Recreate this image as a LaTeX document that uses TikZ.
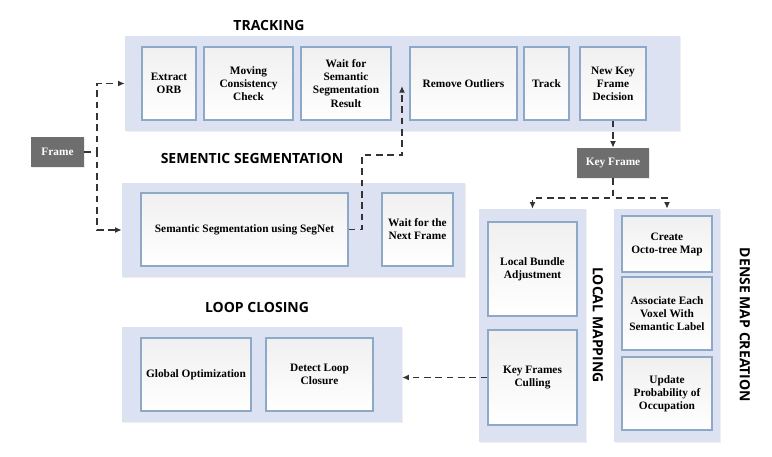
\documentclass[tikz,border=0pt]{standalone}
\usepackage{fontspec}
\setmainfont{Liberation Serif}
\newfontfamily\titlefont{Open Sans}
\usetikzlibrary{fit,arrows.meta,shadows}
\definecolor{contfill}{HTML}{DCE2F2}
\definecolor{boxline}{HTML}{8EA8C8}
\definecolor{darkbox}{HTML}{6E6E6E}
\definecolor{conn}{HTML}{333333}
\tikzset{
  container/.style={fill=contfill, draw=none, inner sep=0pt,
    drop shadow={opacity=0.12, shadow xshift=1pt, shadow yshift=-1pt}},
  stepbox/.style={draw=boxline, line width=0.8pt, top color=gray!12, bottom color=white,
    inner sep=0pt},
  steptext/.style={inner sep=0pt, align=center, font=\bfseries\fontsize{8.5}{9.8}\selectfont},
  darkbox/.style={fill=darkbox, draw=none, inner sep=0pt,
    drop shadow={opacity=0.15, shadow xshift=1pt, shadow yshift=-1pt}},
  darktext/.style={text=white, inner sep=0pt, align=center,
    font=\bfseries\fontsize{8.5}{10}\selectfont},
  title/.style={font=\titlefont\bfseries\fontsize{10.5}{12}\selectfont},
  conn/.style={draw=conn, line width=1.2pt, dash pattern=on 5pt off 3.5pt,
    -{Latex[length=5pt,width=4.5pt]}},
}
\newcommand\stepnode[4]{\node[stepbox, fit={#2 #3}] (#1) {};
  \node[steptext] (#1t) at (#1.center) {#4};}
\newcommand\darknode[4]{\node[darkbox, fit={#2 #3}] (#1) {};
  \node[darktext] (#1t) at (#1.center) {#4};}
\begin{document}
\begin{tikzpicture}[x=0.75pt,y=-0.75pt]
\useasboundingbox (0,0) rectangle (772,457);
\fill[white] (0,0) rectangle (772,457);

% containers
\node[container, fit={(125,36) (680,131)}] (tr) {};
\node[container, fit={(122,183) (465,277)}] (seg) {};
\node[container, fit={(122,327) (402,422)}] (lc) {};
\node[container, fit={(479,209) (586,442)}] (lm) {};
\node[container, fit={(614,209) (720,442)}] (dm) {};

% titles
\node[title] (ttr) at (269,25) {TRACKING};
\node[title] (tseg) at (252,158) {SEMENTIC SEGMENTATION};
\node[title] (tlc) at (257,307) {LOOP CLOSING};
\node[title, rotate=-90] (tlm) at (598,325) {LOCAL MAPPING};
\node[title, rotate=-90] (tdm) at (745,325) {DENSE MAP CREATION};

% tracking boxes
\stepnode{eorb}{(142,47)}{(196,120)}{Extract\\ORB}
\stepnode{mcc}{(204,47)}{(293,120)}{Moving\\Consistency\\Check}
\stepnode{wss}{(301,47)}{(391,120)}{Wait for\\Semantic\\Segmentation\\Result}
\stepnode{ro}{(410,47)}{(517,120)}{Remove Outliers}
\stepnode{trk}{(524,47)}{(569,120)}{Track}
\stepnode{nkf}{(580,47)}{(646,120)}{New Key\\Frame\\Decision}

% segmentation boxes
\stepnode{segnet}{(141,193)}{(348,266)}{Semantic Segmentation using SegNet}
\stepnode{wnf}{(382,193)}{(453,266)}{Wait for the\\Next Frame}

% loop closing boxes
\stepnode{go}{(141,338)}{(251,411)}{Global Optimization}
\stepnode{dlc}{(266,338)}{(373,411)}{Detect Loop\\Closure}

% local mapping boxes
\stepnode{lba}{(488,222)}{(577,316)}{Local Bundle\\Adjustment}
\stepnode{kfc}{(488,330)}{(577,425)}{Key Frames\\Culling}

% dense map boxes
\stepnode{oct}{(622,216)}{(712,272)}{Create\\Octo-tree Map}
\stepnode{avs}{(622,277)}{(712,350)}{Associate Each\\Voxel With\\Semantic Label}
\stepnode{upo}{(622,357)}{(712,430)}{Update\\Probability of\\Occupation}

% dark nodes
\darknode{frame}{(31,137)}{(84,167)}{Frame}
\darknode{kf}{(577,148)}{(649,178)}{Key Frame}

% connectors
\coordinate (segup) at (402,86);
\draw[conn] (frame.east) -- ++(13,0) |- (tr.west);
\draw[conn] (frame.east) -- ++(13,0) |- (seg.west);
\draw[conn] (segnet.east) -| (362,155) -| (segup);
\draw[conn] (nkf.south) -- (kf.north);
\draw[conn] (kf.south) -- ++(0,20) -| (lm.north);
\draw[conn] (kf.south) -- ++(0,20) -| (dm.north);
\draw[conn] (kfc.west) -- (kfc.west -| lc.east);
\end{tikzpicture}
\end{document}
